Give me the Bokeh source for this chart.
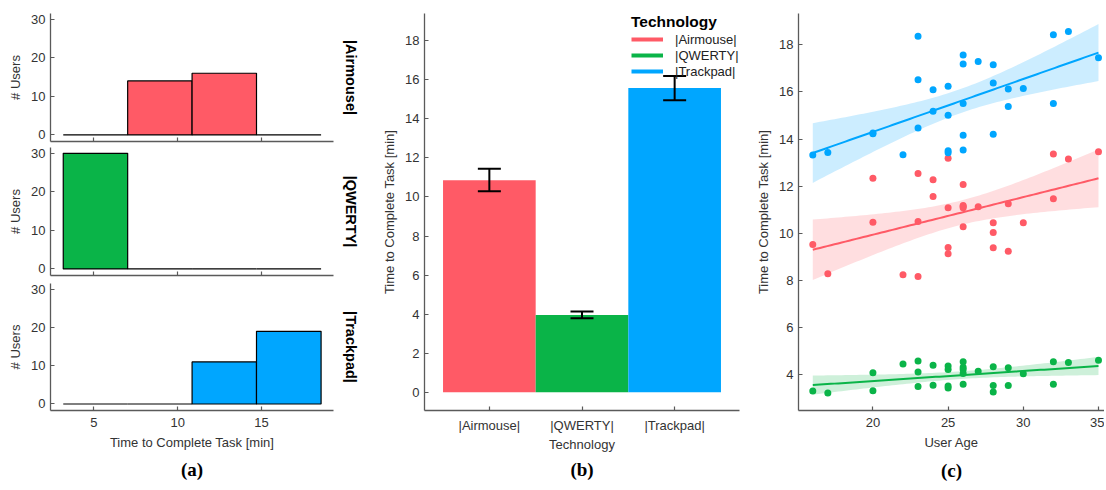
import numpy as np
from bokeh.plotting import figure
from bokeh.layouts import row, column
from bokeh.models import (Range1d, Title, Whisker, TeeHead, ColumnDataSource,
                          Legend, LegendItem, FixedTicker)
from bokeh.embed import file_html
from bokeh.resources import INLINE

# ---------------- data ----------------
technologies = ["|Airmouse|", "|QWERTY|", "|Trackpad|"]
colors = ["#FF5A66", "#0AB448", "#00A6FF"]

bin_edges = [3.18, 7.02, 10.86, 14.70, 18.55]
hist_airmouse = [0, 14, 16, 0]
hist_qwerty = [30, 0, 0, 0]
hist_trackpad = [0, 0, 11, 19]

mean_time = [10.86, 3.95, 15.58]
ci_low = [10.29, 3.79, 14.96]
ci_high = [11.45, 4.13, 16.20]

ages = [16, 17, 20, 20, 22, 23, 23, 23, 24, 24, 25, 25, 25, 25, 26, 26, 26, 26, 26,
        27, 28, 28, 28, 29, 29, 30, 32, 32, 33, 35]
time_airmouse = [9.52, 8.28, 12.33, 10.47, 8.23, 12.54, 10.50, 8.16, 12.27, 11.56,
                 13.18, 11.08, 9.39, 9.13, 12.07, 11.18, 11.13, 11.08, 10.27,
                 11.12, 10.44, 10.03, 9.38, 11.25, 9.23, 10.44, 13.36, 11.46, 13.15, 13.46]
time_qwerty = [3.30, 3.21, 4.07, 3.31, 4.44, 4.57, 4.11, 3.49, 4.39, 3.54,
               4.36, 4.21, 3.51, 3.43, 4.54, 4.31, 4.21, 4.04, 3.59,
               4.14, 4.33, 3.53, 3.26, 4.29, 3.53, 4.03, 4.54, 3.59, 4.51, 4.60]
time_trackpad = [13.32, 13.43, 14.22, 14.25, 13.33, 18.36, 16.52, 14.47, 16.09, 15.18,
                 16.24, 15.01, 13.50, 13.42, 17.57, 17.19, 15.51, 14.16, 13.53,
                 17.29, 17.15, 16.38, 14.20, 16.12, 15.38, 16.14, 18.43, 15.51, 18.57, 17.45]

FONT = "Liberation Sans"
AXC = "#5a5a5a"
TXT = "#333333"


def style(p):
    p.outline_line_color = None
    p.xgrid.visible = False
    p.ygrid.visible = False
    p.background_fill_color = "white"
    p.border_fill_color = "white"
    for ax in p.axis:
        ax.axis_line_color = AXC
        ax.axis_line_width = 1.3
        ax.major_tick_line_color = AXC
        ax.major_tick_line_width = 1.2
        ax.major_tick_in = 4
        ax.major_tick_out = 0
        ax.minor_tick_line_color = None
        ax.major_label_text_font = FONT
        ax.major_label_text_font_size = "13px"
        ax.major_label_text_color = TXT
        ax.axis_label_text_font = FONT
        ax.axis_label_text_font_size = "13px"
        ax.axis_label_text_font_style = "normal"
        ax.axis_label_text_color = TXT


def caption(p, txt, offset=0, standoff=10):
    p.add_layout(Title(text=txt, align="center", text_font="Liberation Serif",
                       text_font_size="19px", text_font_style="bold",
                       text_color="black", offset=offset, standoff=standoff), "below")


# ---------------- panel (a) ----------------
def hist_fig(counts, color, label, top, bottom, last=False):
    p = figure(frame_width=283, frame_height=128 if not last else 127,
               x_range=Range1d(2.42, 19.29), y_range=Range1d(-1.7, 31.5),
               output_backend="svg", toolbar_location=None,
               min_border_left=50, min_border_right=37,
               min_border_top=top, min_border_bottom=bottom)
    p.quad(left=bin_edges[:-1], right=bin_edges[1:], top=counts, bottom=0,
           fill_color=color, line_color="black", line_width=1.2)
    style(p)
    p.yaxis.ticker = FixedTicker(ticks=[0, 10, 20, 30])
    p.xaxis.ticker = FixedTicker(ticks=[5, 10, 15])
    p.yaxis.axis_label = "# Users"
    p.yaxis.major_label_standoff = 5
    if last:
        p.xaxis.axis_label = "Time to Complete Task [min]"
        p.xaxis.major_label_standoff = 7
    else:
        p.xaxis.major_label_text_font_size = "1px"
        p.xaxis.major_label_text_color = None
        p.xaxis.major_label_standoff = 0
    p.add_layout(Title(text=label, align="center", text_font=FONT,
                       text_font_size="14.5px", text_font_style="bold",
                       text_color="black", standoff=18), "right")
    return p


pa1 = hist_fig(hist_airmouse, colors[0], technologies[0], 13, 2)
pa2 = hist_fig(hist_qwerty, colors[1], technologies[1], 4, 4)
pa3 = hist_fig(hist_trackpad, colors[2], technologies[2], 4, 80, last=True)
caption(pa3, "(a)", standoff=8)
col_a = column(pa1, pa2, pa3, spacing=0)

# ---------------- panel (b) ----------------
pb = figure(frame_width=315, frame_height=397,
            x_range=Range1d(0.3, 3.7), y_range=Range1d(-0.94, 19.4),
            output_backend="svg", toolbar_location=None,
            min_border_left=54, min_border_right=13, min_border_top=13,
            min_border_bottom=80)
pb.vbar(x=[1, 2, 3], width=1.0, top=mean_time, bottom=0, fill_color=colors,
        line_color=None)
err_src = ColumnDataSource(dict(x=[1, 2, 3], lo=ci_low, hi=ci_high))
pb.add_layout(Whisker(base="x", lower="lo", upper="hi", source=err_src,
                      line_color="black", line_width=2, level="overlay",
                      upper_head=TeeHead(size=23, line_width=2, line_color="black"),
                      lower_head=TeeHead(size=23, line_width=2, line_color="black")))
style(pb)
pb.xaxis.ticker = FixedTicker(ticks=[1, 2, 3])
pb.xaxis.major_label_overrides = {1: technologies[0], 2: technologies[1], 3: technologies[2]}
pb.xaxis.major_label_standoff = 7
pb.xaxis.axis_label_standoff = 1
pb.yaxis.ticker = FixedTicker(ticks=list(range(0, 19, 2)))
pb.xaxis.axis_label = "Technology"
pb.yaxis.axis_label = "Time to Complete Task [min]"

items = []
for t, c in zip(technologies, colors):
    r = pb.line(x=[np.nan, np.nan], y=[np.nan, np.nan], line_color=c, line_width=4)
    items.append(LegendItem(label=t, renderers=[r]))
leg = Legend(items=items, location=(207, 331), title="Technology",
             title_text_font=FONT, title_text_font_size="15.5px",
             title_text_font_style="bold", title_text_color="black",
             title_standoff=0,
             label_text_font=FONT, label_text_font_size="13px",
             label_text_color="#222222", label_standoff=12,
             glyph_width=32, glyph_height=16, label_height=16, spacing=0,
             padding=0, margin=0, border_line_color=None,
             background_fill_alpha=0)
pb.add_layout(leg)
caption(pb, "(b)", offset=-17, standoff=4)

# ---------------- panel (c) ----------------
pc = figure(frame_width=306, frame_height=397,
            x_range=Range1d(15.05, 35.4), y_range=Range1d(2.47, 19.33),
            output_backend="svg", toolbar_location=None,
            min_border_left=46, min_border_right=0, min_border_top=13,
            min_border_bottom=80)
ages_arr = np.array(ages, dtype=float)
grid = np.linspace(min(ages), max(ages), 80)
n = len(ages)
tcrit = 2.048
for times, c in zip([time_airmouse, time_qwerty, time_trackpad], colors):
    y = np.array(times)
    b1, b0 = np.polyfit(ages_arr, y, 1)
    resid = y - (b0 + b1 * ages_arr)
    s = np.sqrt(np.sum(resid ** 2) / (n - 2))
    sxx = np.sum((ages_arr - ages_arr.mean()) ** 2)
    fit = b0 + b1 * grid
    se = s * np.sqrt(1.0 / n + (grid - ages_arr.mean()) ** 2 / sxx)
    pc.varea(x=grid, y1=fit - tcrit * se, y2=fit + tcrit * se,
             fill_color=c, fill_alpha=0.2)
    pc.scatter(x=ages, y=times, size=7, fill_color=c, line_color=None)
    pc.line(x=grid, y=fit, line_color=c, line_width=2)
style(pc)
pc.xaxis.ticker = FixedTicker(ticks=[20, 25, 30, 35])
pc.yaxis.ticker = FixedTicker(ticks=list(range(4, 19, 2)))
pc.xaxis.major_label_standoff = 7
pc.xaxis.axis_label = "User Age"
pc.yaxis.axis_label = "Time to Complete Task [min]"
caption(pc, "(c)", standoff=11)

layout = row(col_a, pb, pc, spacing=0)
open("out.html", "w").write(file_html(layout, INLINE))
